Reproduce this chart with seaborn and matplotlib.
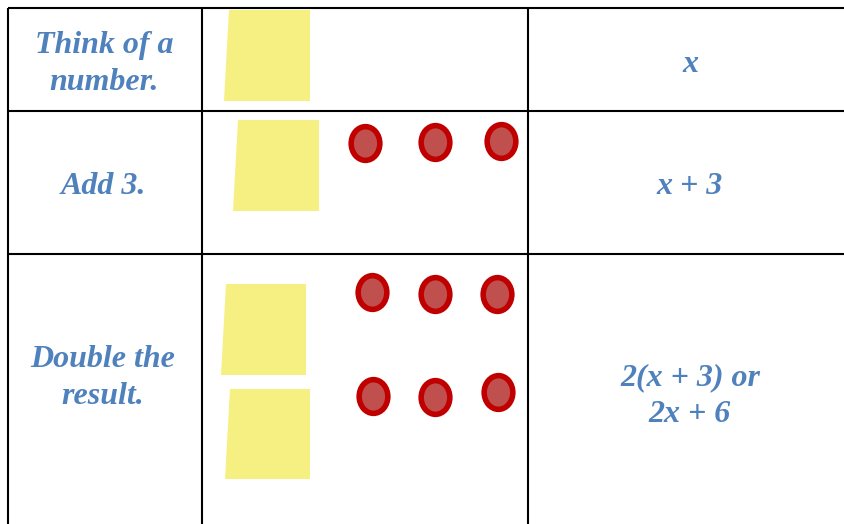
import matplotlib
matplotlib.use('Agg')
import matplotlib.pyplot as plt
from matplotlib.path import Path
from matplotlib.patches import Ellipse
import seaborn as sns
import pandas as pd

# table grid, pixel positions
row_lines = [8, 111, 254]
col_lines = [8, 202, 528]

step_labels = ['Think of a\nnumber.', 'Add 3.', 'Double the\nresult.']
step_x = [104, 103, 103]
step_y = [64, 186, 378]

expr_labels = ['x', 'x + 3', '2(x + 3) or\n2x + 6']
expr_x = [690, 690, 690]
expr_y = [64, 187, 396]

# sticky notes: corners are top-left, top-right, bottom-right, bottom-left
note_xs = [[229, 310, 310, 224],
           [238, 319, 319, 233],
           [226, 306, 306, 221],
           [230, 310, 310, 225]]
note_ys = [[10, 10, 101, 101],
           [120, 120, 211, 211],
           [284, 284, 375, 375],
           [389, 389, 479, 479]]

counter_x = [365, 435, 501, 372, 435, 497, 373, 435, 498]
counter_y = [143, 142, 141, 292, 294, 294, 396, 397, 392]

BLUE = '#4f81bd'
YELLOW = '#f6ef82'
RED = '#c00000'
RED_FILL = '#c0504d'

sns.set_theme(style='white')
plt.rcParams['font.family'] = ['Liberation Serif', 'DejaVu Serif']

fig, ax = plt.subplots(figsize=(8.45, 5.24), dpi=100)
ax.set_position([0, 0, 1, 1])

ax.hlines(row_lines, 8, 845, color='black', lw=1.5)
ax.vlines(col_lines, 8, 524, color='black', lw=1.5)

for xs, ys in zip(note_xs, note_ys):
    ax.fill(xs, ys, color=YELLOW, lw=0)

# counters are slightly taller than wide, so use an ellipse marker
shape = Ellipse((0, 0), 0.85, 1)
oval = shape.get_path().transformed(shape.get_patch_transform())
oval = Path(oval.vertices, oval.codes)
counters = pd.DataFrame({'x': counter_x, 'y': counter_y})
sns.scatterplot(data=counters, x='x', y='y', marker=oval, s=590, color=RED_FILL,
                edgecolor=RED, linewidth=4, ax=ax, zorder=3, legend=False)
ax.set_xlim(0, 845)
ax.set_ylim(524, 0)
ax.axis('off')

for lab, x, y in zip(step_labels + expr_labels, step_x + expr_x, step_y + expr_y):
    ax.text(x, y, lab, color=BLUE, fontsize=23, fontweight='bold', fontstyle='italic',
            ha='center', va='center', linespacing=1.33)

fig.savefig('out.png', dpi=100)
